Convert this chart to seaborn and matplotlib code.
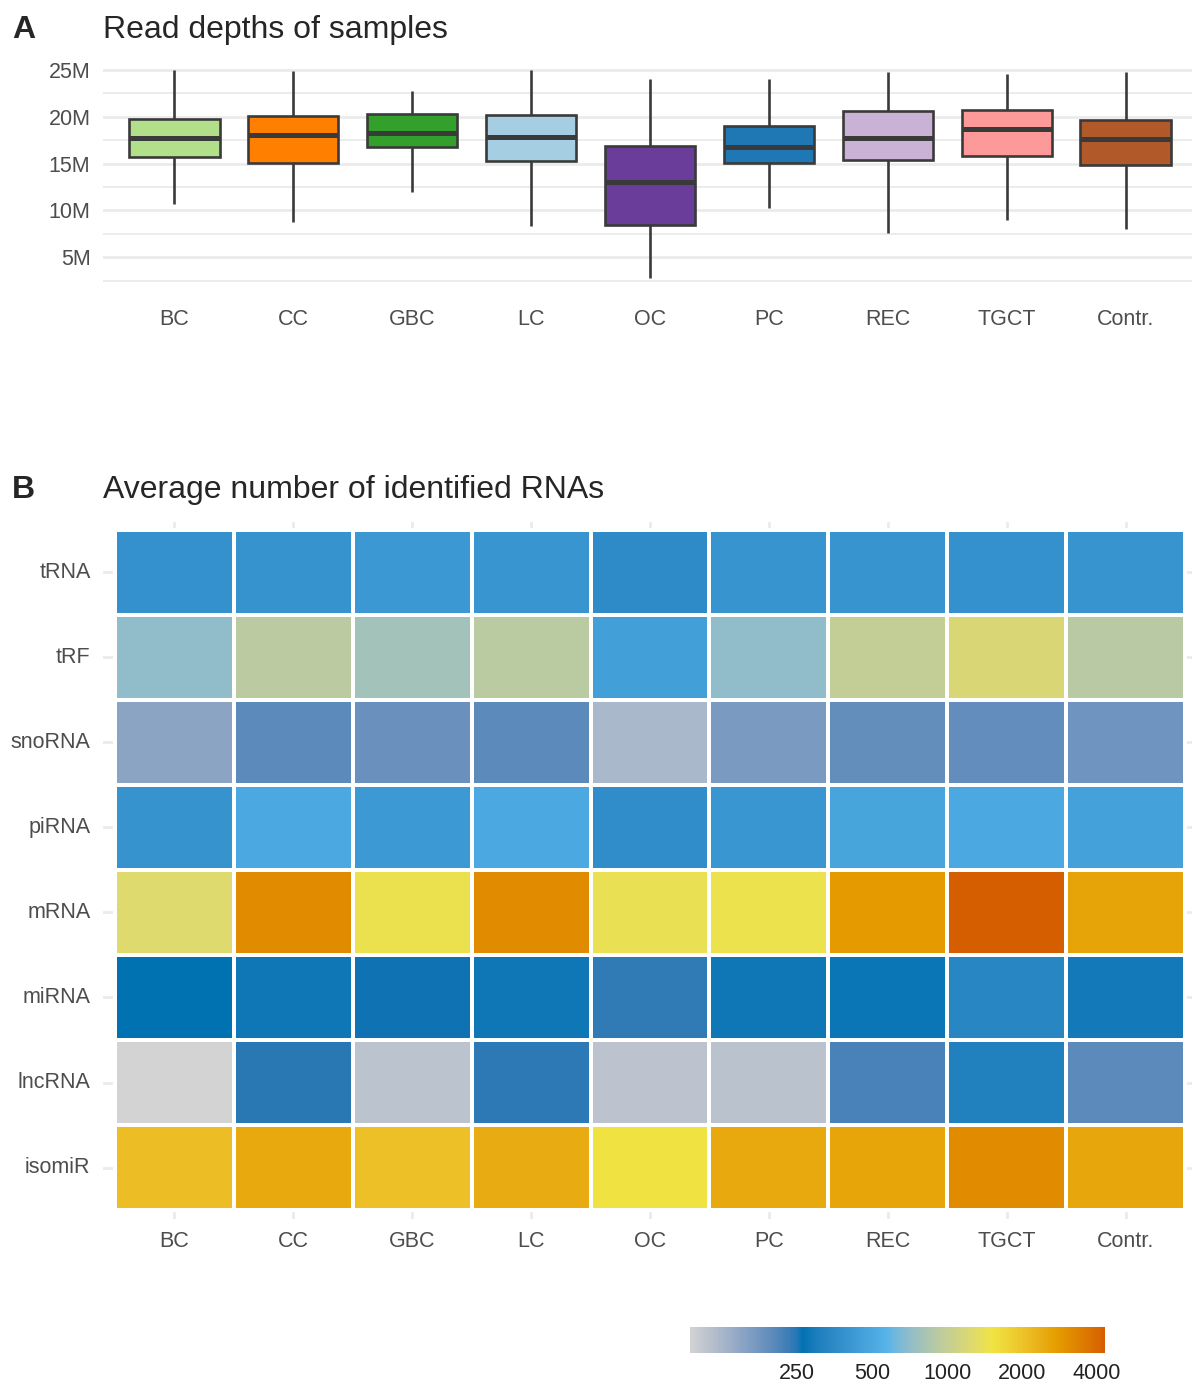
import numpy as np
import pandas as pd
import matplotlib
matplotlib.use("Agg")
import matplotlib.pyplot as plt
import seaborn as sns
from matplotlib.colors import ListedColormap, LogNorm, to_rgb
from matplotlib.ticker import FuncFormatter, MultipleLocator, NullLocator

# ---- data ----
groups = ["BC", "CC", "GBC", "LC", "OC", "PC", "REC", "TGCT", "Contr."]

# read depth five-number summaries (millions of reads)
depth_min = [10.7, 8.8, 12.0, 8.3, 2.8, 10.3, 7.6, 9.0, 8.0]
depth_q1 = [15.7, 15.1, 16.8, 15.3, 8.4, 15.1, 15.4, 15.8, 14.9]
depth_med = [17.7, 18.1, 18.3, 17.8, 13.0, 16.8, 17.7, 18.7, 17.6]
depth_q3 = [19.8, 20.1, 20.3, 20.2, 16.9, 19.0, 20.6, 20.7, 19.7]
depth_max = [25.0, 24.9, 22.8, 25.0, 24.0, 24.0, 24.8, 24.6, 24.8]

box_colors = ["#B2DF8A", "#FF7F00", "#33A02C", "#A6CEE3", "#6A3D9A",
              "#1F78B4", "#CAB2D6", "#FB9A99", "#B15928"]

rna_types = ["tRNA", "tRF", "snoRNA", "piRNA", "mRNA", "miRNA", "lncRNA", "isomiR"]
avg_counts = [
    [385, 390, 415, 400, 355, 395, 395, 385, 395],         # tRNA
    [710, 928, 786, 925, 450, 712, 985, 1200, 912],        # tRF
    [151, 200, 184, 200, 123, 168, 192, 193, 179],         # snoRNA
    [390, 505, 420, 505, 365, 405, 480, 505, 465],         # piRNA
    [1250, 3100, 1450, 3100, 1430, 1460, 2800, 4300, 2600],  # mRNA
    [262, 280, 258, 278, 240, 280, 275, 335, 285],         # miRNA
    [93, 245, 110, 243, 109, 111, 220, 315, 200],          # lncRNA
    [2100, 2500, 2050, 2450, 1540, 2500, 2580, 3100, 2550],  # isomiR
]
cbar_ticks = [250, 500, 1000, 2000, 4000]

# colour stops of the fill gradient (position on log scale, colour)
stop_pos = [0.0, 0.27, 0.475, 0.73, 0.88, 1.0]
stop_cols = ["#D3D3D3", "#0072B2", "#56B4E9", "#F0E442", "#E69F00", "#D55E00"]


# gradient interpolated in CIELAB like ggplot's gradientn
def to_lab(c):
    rgb = np.array(to_rgb(c))
    lin = np.where(rgb <= 0.04045, rgb / 12.92, ((rgb + 0.055) / 1.055) ** 2.4)
    m = np.array([[0.4124, 0.3576, 0.1805], [0.2126, 0.7152, 0.0722], [0.0193, 0.1192, 0.9505]])
    xyz = m @ lin / np.array([0.95047, 1.0, 1.08883])
    f = np.where(xyz > 0.008856, np.cbrt(xyz), 7.787 * xyz + 16 / 116)
    return np.array([116 * f[1] - 16, 500 * (f[0] - f[1]), 200 * (f[1] - f[2])])


def from_lab(lab):
    fy = (lab[0] + 16) / 116
    fx = fy + lab[1] / 500
    fz = fy - lab[2] / 200
    f = np.array([fx, fy, fz])
    xyz = np.where(f ** 3 > 0.008856, f ** 3, (f - 16 / 116) / 7.787) * np.array([0.95047, 1.0, 1.08883])
    mi = np.array([[3.2406, -1.5372, -0.4986], [-0.9689, 1.8758, 0.0415], [0.0557, -0.2040, 1.0570]])
    lin = mi @ xyz
    rgb = np.where(lin <= 0.0031308, 12.92 * lin, 1.055 * np.clip(lin, 0, None) ** (1 / 2.4) - 0.055)
    return np.clip(rgb, 0, 1)


labs = np.array([to_lab(c) for c in stop_cols])
ts = np.linspace(0, 1, 512)
cols = [from_lab(np.array([np.interp(t, stop_pos, labs[:, k]) for k in range(3)])) for t in ts]
cmap = ListedColormap(cols)

# ---- style ----
sns.set_style("white")
plt.rcParams["font.family"] = ["Liberation Sans", "DejaVu Sans"]
tick_col = "#4D4D4D"
grid_col = "#EBEBEB"
tick_fs = 15.5
title_fs = 23

W, H = 1192, 1385
fig = plt.figure(figsize=(W / 100, H / 100), dpi=100)


def fig_axes(x0, y0, x1, y1):
    return fig.add_axes([x0 / W, 1 - y1 / H, (x1 - x0) / W, (y1 - y0) / H])


# ---- panel A: boxplot ----
rows = []
for g, a, b, c, d, e in zip(groups, depth_min, depth_q1, depth_med, depth_q3, depth_max):
    for v in (a, b, c, d, e):
        rows.append({"group": g, "depth": v * 1e6})
df = pd.DataFrame(rows)

ax_a = fig_axes(103, 60, 1197, 295)
ax_a.set_axisbelow(True)
ax_a.grid(True, which="major", color=grid_col, lw=2)
ax_a.grid(True, which="minor", axis="y", color=grid_col, lw=1.3)
sns.boxplot(data=df, x="group", y="depth", hue="group", order=groups, hue_order=groups,
            palette=box_colors, legend=False, whis=(0, 100), width=0.76, saturation=1,
            linecolor="#3A3A3A", linewidth=1.9, medianprops={"linewidth": 3.6},
            showcaps=False, ax=ax_a)
ax_a.set_xlim(-0.6, 8.6)
ax_a.set_ylim(0.96e6, 26.07e6)
ax_a.yaxis.set_major_locator(MultipleLocator(5e6))
ax_a.yaxis.set_minor_locator(MultipleLocator(2.5e6))
ax_a.yaxis.set_major_formatter(FuncFormatter(lambda v, p: f"{v / 1e6:.0f}M"))
ax_a.set_xlabel("")
ax_a.set_ylabel("")
ax_a.tick_params(which="both", length=0, labelsize=tick_fs, labelcolor=tick_col)
ax_a.tick_params(axis="y", pad=9)
ax_a.tick_params(axis="x", pad=10)
for s in ax_a.spines.values():
    s.set_visible(False)

# ---- panel B: heatmap ----
heat = pd.DataFrame(avg_counts, index=rna_types, columns=groups)
norm = LogNorm(vmin=heat.values.min(), vmax=heat.values.max())

ax_b = fig_axes(103, 521.5, 1197, 1218.5)
cax = fig_axes(690, 1327, 1105, 1353)
ax_b.set_axisbelow(True)
sns.heatmap(heat, cmap=cmap, norm=norm, linewidths=1.7, linecolor="white",
            cbar_ax=cax, cbar_kws={"orientation": "horizontal"}, ax=ax_b)
ax_b.set_xlim(-0.1, 9.1)
ax_b.set_ylim(8.1, -0.1)
ax_b.grid(True, color=grid_col, lw=2)
ax_b.tick_params(length=0, labelsize=tick_fs, labelcolor=tick_col)
ax_b.tick_params(axis="y", pad=9, rotation=0)
ax_b.tick_params(axis="x", pad=9, rotation=0)
ax_b.set_xlabel("")
ax_b.set_ylabel("")
for s in ax_b.spines.values():
    s.set_visible(False)

cbar = ax_b.collections[0].colorbar
cbar.outline.set_visible(False)
cbar.set_ticks(cbar_ticks)
cbar.set_ticklabels([str(t) for t in cbar_ticks])
cbar.ax.xaxis.set_minor_locator(NullLocator())
cbar.ax.tick_params(which="major", direction="in", length=5, width=1, color="white",
                    top=True, bottom=True, labelsize=tick_fs, labelcolor="#222222", pad=7)

# ---- titles ----
fig.text(12 / W, 1 - 38 / H, "A", fontsize=title_fs, fontweight="bold", va="baseline")
fig.text(103 / W, 1 - 38 / H, "Read depths of samples", fontsize=title_fs, va="baseline")
fig.text(12 / W, 1 - 498 / H, "B", fontsize=title_fs, fontweight="bold", va="baseline")
fig.text(103 / W, 1 - 498 / H, "Average number of identified RNAs", fontsize=title_fs, va="baseline")

fig.savefig("out.png", dpi=100)
